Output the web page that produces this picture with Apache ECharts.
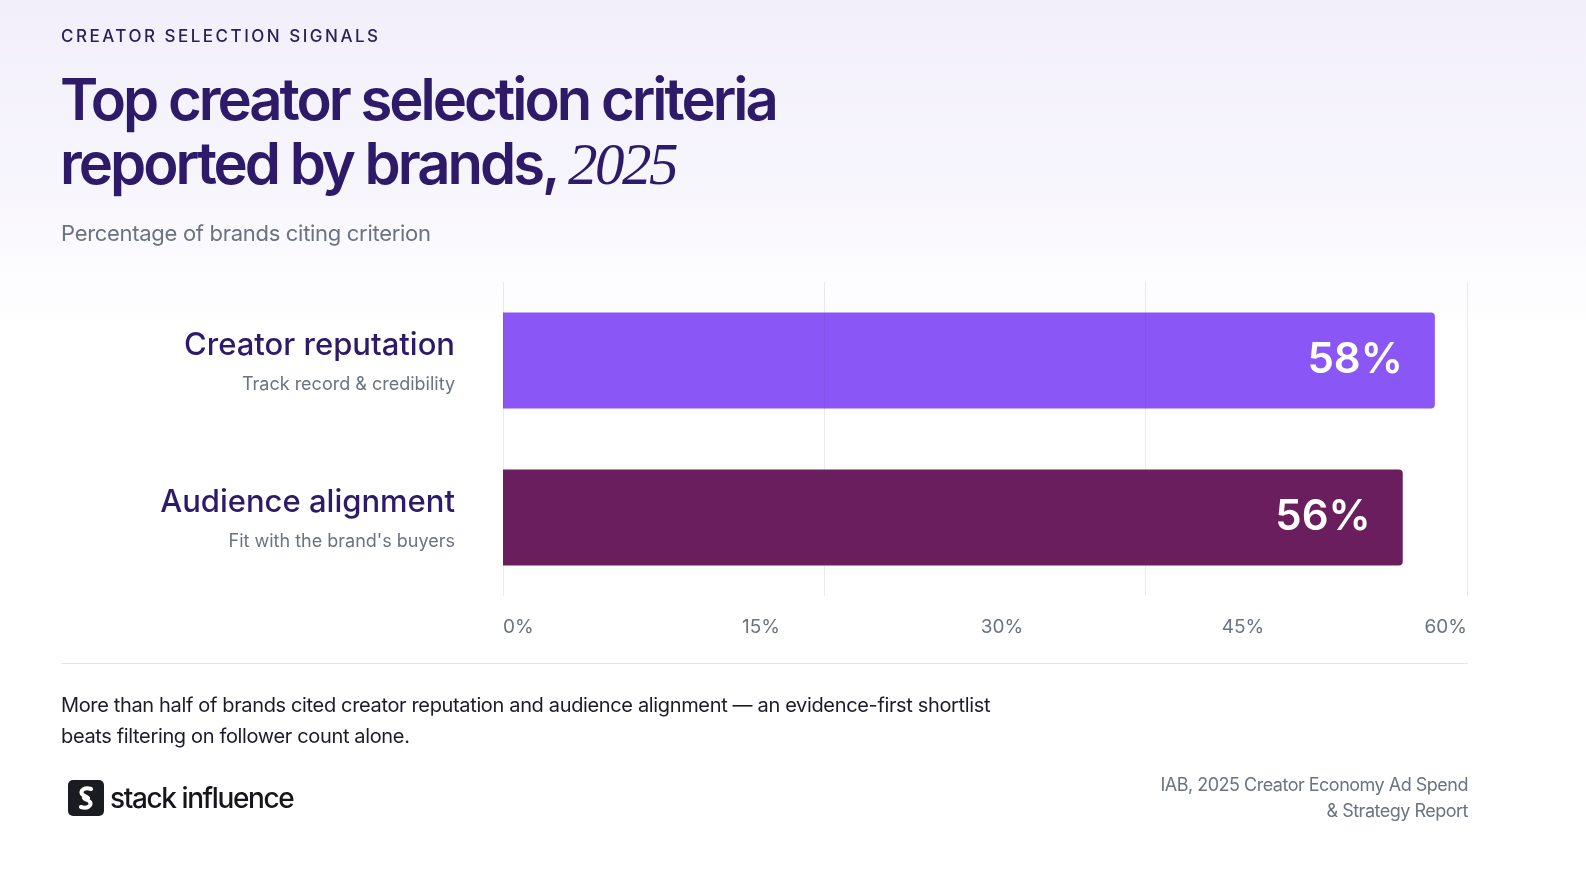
<!DOCTYPE html>
<html>
<head>
<meta charset="utf-8">
<script src="https://cdn.jsdelivr.net/npm/echarts@6/dist/echarts.min.js"></script>
<style>
  html, body { margin: 0; padding: 0; }
  body {
    width: 1586px; height: 874px; overflow: hidden; position: relative;
    background: linear-gradient(180deg, #f2effb 0%, #f7f5fc 20%, #ffffff 38%, #ffffff 100%);
    font-family: Inter, "Noto Sans", sans-serif;
  }
  #chart { position: absolute; left: 0; top: 0; width: 1586px; height: 874px; }
  .txt { position: absolute; white-space: nowrap; pointer-events: none; }
  #eyebrow { left: 61px; top: 26px; font-size: 17px; line-height: 20px; font-weight: 500;
    letter-spacing: 2.5px; color: #2b2057; }
  #title { left: 60px; top: 67px; font-size: 58px; line-height: 64px; font-weight: 600;
    letter-spacing: -3px; color: #2d1a68; }
  #title em { font-family: "Liberation Serif", serif; font-style: italic; font-weight: 400;
    letter-spacing: -2.5px; font-size: 59px; }
  #sub { left: 61px; top: 219px; font-size: 22px; line-height: 28px; color: #6b7280; letter-spacing: -0.3px; }
  #rule { position: absolute; left: 61px; top: 663px; width: 1407px; height: 1px; background: #e6e4ea; }
  #note { left: 61px; top: 690px; font-size: 20px; line-height: 31px; color: #1c1b29; letter-spacing: -0.35px; }
  #logo { left: 68px; top: 780px; height: 36px; display: flex; align-items: center; }
  #logo .ic { width: 36px; height: 36px; border-radius: 5px; background: #1b1c21; display: flex;
    align-items: center; justify-content: center; }
  #logo .nm { margin-left: 6px; font-size: 28px; font-weight: 500; letter-spacing: -1.4px; color: #16161a; }
  #src { right: 118px; top: 772px; font-size: 18px; line-height: 26px; color: #6b7280; text-align: right; letter-spacing: -0.5px; }
</style>
</head>
<body>
<div id="chart"></div>
<div class="txt" id="eyebrow">CREATOR SELECTION SIGNALS</div>
<div class="txt" id="title">Top creator selection criteria<br>reported by brands, <em>2025</em></div>
<div class="txt" id="sub">Percentage of brands citing criterion</div>
<div id="rule"></div>
<div class="txt" id="note">More than half of brands cited creator reputation and audience alignment — an evidence-first shortlist<br>beats filtering on follower count alone.</div>
<div class="txt" id="logo">
  <div class="ic">
    <svg width="22" height="24" viewBox="0 0 22 24">
      <path d="M16 3 C10 1 5 4 7 8 C8 10 12 10 13 12" stroke="#fff" stroke-width="4" fill="none" stroke-linecap="round"/>
      <path d="M9 12 C10 14 14 14 15 16 C17 20 12 23 6 21" stroke="#fff" stroke-width="4" fill="none" stroke-linecap="round"/>
    </svg>
  </div>
  <div class="nm">stack influence</div>
</div>
<div class="txt" id="src">IAB, 2025 Creator Economy Ad Spend<br>&amp; Strategy Report</div>

<script>
// data
var categories = ['Creator reputation', 'Audience alignment'];
var descriptions = ['Track record & credibility', "Fit with the brand's buyers"];
var values = [58, 56];
var tickLabels = ['0%', '15%', '30%', '45%', '60%'];

var barColors = ['#8a56f5', '#6a1e5e'];

var chart = echarts.init(document.getElementById('chart'), null, { renderer: 'canvas' });

var option = {
  animation: false,
  grid: { left: 503, right: 119, top: 282, bottom: 278 },
  xAxis: [
    {
      // grid lines only (0 / 20 / 40 / 60)
      type: 'value', min: 0, max: 60, interval: 20, z: 5,
      axisLine: { show: false }, axisTick: { show: false },
      axisLabel: { show: false },
      splitLine: { show: true, lineStyle: { color: 'rgba(70,60,100,0.11)', width: 1 } }
    },
    {
      // tick labels spread across the axis
      type: 'category', data: tickLabels, boundaryGap: false, position: 'bottom',
      axisLine: { show: false }, axisTick: { show: false }, splitLine: { show: false },
      axisLabel: {
        interval: 0, margin: 22, color: '#6b7280', fontSize: 19,
        fontFamily: 'Inter', alignMinLabel: 'left', alignMaxLabel: 'right',
        formatter: function (v, i) {
          if (i === 0 || i === tickLabels.length - 1) return v;
          return '{m|' + v + '}';
        },
        rich: { m: { padding: [0, 0, 0, 34], fontSize: 19, color: '#6b7280', fontFamily: 'Inter' } }
      }
    }
  ],
  yAxis: {
    type: 'category', data: categories, inverse: true,
    axisLine: { show: false }, axisTick: { show: false },
    axisLabel: {
      margin: 48, align: 'right', padding: [8, 0, 0, 0],
      formatter: function (v, i) {
        return '{n|' + v + '}\n{s|' + descriptions[i] + '}';
      },
      rich: {
        n: { fontSize: 31, fontWeight: 500, color: '#2d1a68', fontFamily: 'Inter', lineHeight: 40, align: 'right' },
        s: { fontSize: 18, color: '#6b7280', fontFamily: 'Inter', lineHeight: 38, align: 'right' }
      }
    }
  },
  series: [{
    type: 'bar',
    xAxisIndex: 0,
    data: values,
    barWidth: 96,
    itemStyle: {
      borderRadius: [0, 4, 4, 0],
      color: function (p) { return barColors[p.dataIndex]; }
    },
    label: {
      show: true, position: 'insideRight', distance: 32,
      formatter: '{c}%', color: '#ffffff', fontSize: 42, fontWeight: 600, fontFamily: 'Inter'
    }
  }]
};

chart.setOption(option);
</script>
</body>
</html>
